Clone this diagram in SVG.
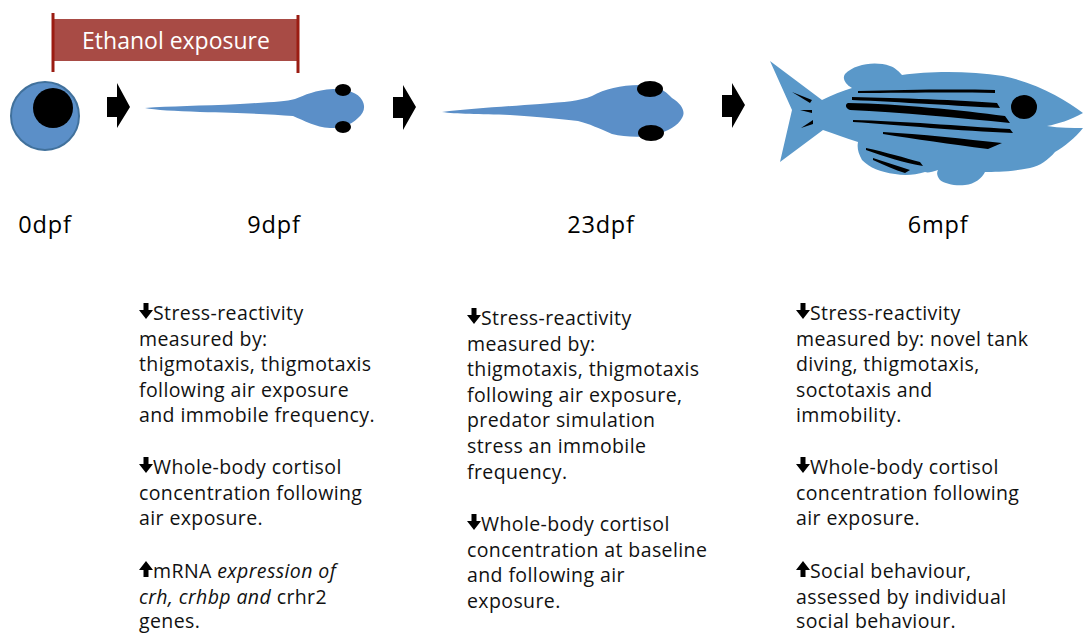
<svg xmlns="http://www.w3.org/2000/svg" width="1084" height="633" viewBox="0 0 1084 633">
  <style>
    .body { fill: #5b8fc8; }
    .fishbody { fill: #5a98c9; }
    .ink { fill: #000; }
    .stage { font-family: "Open Sans", Lato, sans-serif; font-size: 23.5px; letter-spacing: 0.8px; fill: #000; text-anchor: middle; }
    .note { font-family: "Open Sans", Lato, sans-serif; font-size: 19.5px; letter-spacing: 0.4px; fill: #111; }
    .banner-text { font-family: "Open Sans", Lato, sans-serif; font-size: 23px; fill: #fff; text-anchor: middle; }
    .bar { stroke: #9b1c12; stroke-width: 3; }
  </style>
  <defs>
    <path id="down" d="M-2.5,-8 h5 v7 h4.5 l-7,9 l-7,-9 h4.5 z"/>
    <path id="up" d="M-2.5,8 h5 v-7 h4.5 l-7,-9 l-7,9 h4.5 z"/>
  </defs>
  <rect width="1084" height="633" fill="#fff"/>

  <!-- exposure window -->
  <g id="ethanol-banner">
    <rect x="54" y="19" width="244" height="42" fill="#a84b45"/>
    <line class="bar" x1="53" y1="13" x2="53" y2="72"/>
    <line class="bar" x1="298" y1="15" x2="298" y2="73"/>
    <text class="banner-text" x="176" y="49">Ethanol exposure</text>
  </g>

  <!-- developmental stages -->
  <g id="egg">
    <circle cx="45" cy="116" r="34" class="body" stroke="#41719c" stroke-width="2"/>
    <circle cx="53" cy="108" r="20" class="ink"/>
  </g>

  <g id="larva-9dpf">
    <path class="body" d="M145,108 C170,106 200,106 240,104 C270,102 285,102 295,99 C305,95 315,90 333,89 C348,89 358,93 362,100 C366,107 364,113 358,118 C350,126 340,128 330,128 C315,127 305,121 293,116 C270,114 240,113 200,112 C175,111 155,110 145,108 Z"/>
    <ellipse cx="343" cy="90" rx="8" ry="6" class="ink"/>
    <ellipse cx="343" cy="127" rx="8" ry="6" class="ink"/>
  </g>

  <g id="larva-23dpf">
    <path class="body" d="M442,112 C470,109 510,106 540,104 C565,102 580,101 592,96 C605,89 620,85 640,85 C655,85 665,90 672,98 C682,104 686,112 682,118 C678,126 668,131 655,135 C640,138 625,137 612,134 C598,128 590,124 578,121 C560,119 540,117 510,115 C480,114 455,114 442,112 Z"/>
    <ellipse cx="650" cy="89" rx="13" ry="8" class="ink"/>
    <ellipse cx="651" cy="133" rx="13" ry="8" class="ink"/>
  </g>

  <g id="adult-fish">
    <path class="fishbody" d="M770,61 L822,100 C832,95 842,91 852,88 C845,84 842,78 845,74 C855,64 875,61 890,66 C896,68 899,72 902,75 C930,71 970,71 1003,76 C1040,84 1065,100 1083,113 C1070,120 1058,124 1047,126 C1060,128 1072,128 1083,128 C1075,138 1065,146 1055,152 C1048,160 1040,166 1030,168 C1010,172 995,172 985,172 C982,178 975,184 965,185 C955,186 945,184 940,180 C936,175 937,172 938,170 C932,172 928,173 925,172 C915,175 905,176 895,174 C880,172 870,168 862,160 C858,153 857,148 858,142 C845,138 835,134 823,130 L780,162 L792,110 Z"/>
    <ellipse cx="1024" cy="107" rx="13" ry="12" class="ink"/>
    <!-- tail stripes -->
    <path class="ink" d="M792,92 L812,100 L810,103 Z"/>
    <path class="ink" d="M800,110 L812,110 L812,113 Z"/>
    <path class="ink" d="M801,128 L813,120 L813,124 Z"/>
    <!-- body stripes -->
    <path class="ink" d="M858,91 C900,90 950,89 995,90 L995,93 C950,92 900,93 858,93 Z"/>
    <path class="ink" d="M852,97 C900,98 960,100 997,103 L1000,108 C960,106 900,102 852,100 Z"/>
    <path class="ink" d="M848,103 C900,104 960,110 1005,116 L1010,123 C960,118 900,112 850,110 C845,108 845,104 848,103 Z"/>
    <path class="ink" d="M853,120 C900,121 960,126 1010,129 L1013,133 C960,131 900,125 853,122 Z"/>
    <path class="ink" d="M883,132 C920,134 965,139 1002,143 L988,149 C950,144 915,139 883,134 Z"/>
    <!-- fin stripes -->
    <path class="ink" d="M866,148 C885,152 905,158 920,162 L923,166 C905,163 885,157 866,150 Z"/>
    <path class="ink" d="M873,158 C885,162 898,166 910,170 L905,173 C895,170 884,165 873,160 Z"/>
  </g>

  <!-- arrows between stages -->
  <g id="connectors" class="ink">
    <path d="M107,97 H117 V83 L130,107 L117,128 V117 H107 Z"/>
    <path d="M393,97 H403 V85 L416,107 L403,130 V118 H393 Z"/>
    <path d="M722,95 H732 V83 L745,105 L732,128 V117 H722 Z"/>
  </g>

  <!-- stage labels -->
  <g id="labels">
    <text class="stage" x="45" y="233">0dpf</text>
    <text class="stage" x="274" y="233">9dpf</text>
    <text class="stage" x="601" y="233">23dpf</text>
    <text class="stage" x="938" y="233">6mpf</text>
  </g>

  <!-- findings at 9dpf -->
  <g id="findings-9dpf">
    <use href="#down" x="146" y="311"/>
    <text class="note" x="153" y="320">Stress-reactivity</text>
    <text class="note" x="139" y="345.6">measured by:</text>
    <text class="note" x="139" y="371.2">thigmotaxis, thigmotaxis</text>
    <text class="note" x="139" y="396.8">following air exposure</text>
    <text class="note" x="139" y="422.4">and immobile frequency.</text>
    <use href="#down" x="146" y="465"/>
    <text class="note" x="153" y="474">Whole-body cortisol</text>
    <text class="note" x="139" y="499.6">concentration following</text>
    <text class="note" x="139" y="525.2">air exposure.</text>
    <use href="#up" x="146" y="569"/>
    <text class="note" x="153" y="578">mRNA <tspan font-style="italic">expression of</tspan></text>
    <text class="note" x="139" y="603.6"><tspan font-style="italic">crh, crhbp and</tspan> crhr2</text>
    <text class="note" x="139" y="628">genes.</text>
  </g>

  <!-- findings at 23dpf -->
  <g id="findings-23dpf">
    <use href="#down" x="474" y="316"/>
    <text class="note" x="481" y="325">Stress-reactivity</text>
    <text class="note" x="467" y="350.6">measured by:</text>
    <text class="note" x="467" y="376.2">thigmotaxis, thigmotaxis</text>
    <text class="note" x="467" y="401.8">following air exposure,</text>
    <text class="note" x="467" y="427.4">predator simulation</text>
    <text class="note" x="467" y="453">stress an immobile</text>
    <text class="note" x="467" y="478.6">frequency.</text>
    <use href="#down" x="474" y="522"/>
    <text class="note" x="481" y="531">Whole-body cortisol</text>
    <text class="note" x="467" y="556.6">concentration at baseline</text>
    <text class="note" x="467" y="582.2">and following air</text>
    <text class="note" x="467" y="607.8">exposure.</text>
  </g>

  <!-- findings at 6mpf -->
  <g id="findings-6mpf">
    <use href="#down" x="803" y="311"/>
    <text class="note" x="810" y="320">Stress-reactivity</text>
    <text class="note" x="796" y="345.6">measured by: novel tank</text>
    <text class="note" x="796" y="371.2">diving, thigmotaxis,</text>
    <text class="note" x="796" y="396.8">soctotaxis and</text>
    <text class="note" x="796" y="422.4">immobility.</text>
    <use href="#down" x="803" y="465"/>
    <text class="note" x="810" y="474">Whole-body cortisol</text>
    <text class="note" x="796" y="499.6">concentration following</text>
    <text class="note" x="796" y="525.2">air exposure.</text>
    <use href="#up" x="803" y="569"/>
    <text class="note" x="810" y="578">Social behaviour,</text>
    <text class="note" x="796" y="603.6">assessed by individual</text>
    <text class="note" x="796" y="628">social behaviour.</text>
  </g>
</svg>
